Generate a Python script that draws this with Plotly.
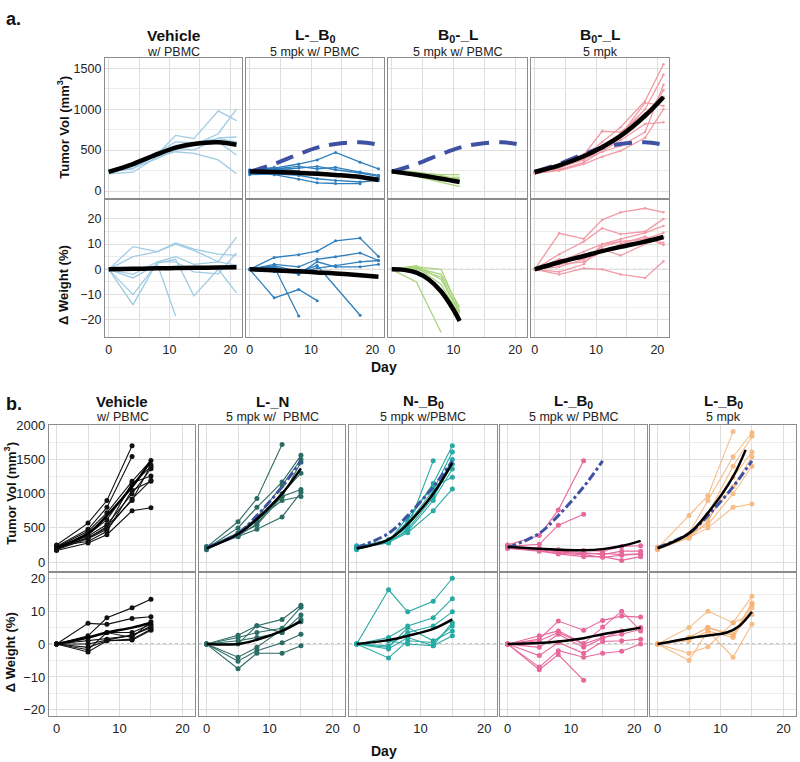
import plotly.graph_objects as go

W, H = 800, 762

# ---------------- Panel a data ----------------
A_DAYS = [0, 4, 8, 11, 14, 18, 21]
A_SHORT_DAYS = [0, 4, 8, 11]

A_VEH_TV = [
    [230, 270, 450, 680, 640, 980, 860],
    [220, 300, 430, 560, 560, 700, 1000],
    [240, 320, 480, 520, 500, 650, 660],
    [210, 230, 420, 480, 460, 380, 210],
    [240, 280, 400, 500, 560, 600, 440],
    [230, 310, 470, 600, 590, 640, 600],
]
A_VEH_TV_FIT = [235, 330, 450, 530, 575, 595, 565]

A_LB0_TV = [
    [250, 280, 330, 380, 472, 352, 272],
    [240, 270, 300, 270, 290, 232, 192],
    [230, 260, 280, 300, 260, 220, 180],
    [260, 230, 220, 230, 200, 180, 160],
    [220, 200, 144, 100, 92, 90, None],
    [200, 210, 190, 150, 130, 110, 130],
    [250, 290, 240, 210, 190, 170, 140],
]
A_LB0_TV_FIT = [240, 232, 222, 212, 197, 172, 135]

A_B0L_PBMC_TV = [
    [240, 200, 180, 150],
    [230, 220, 200, 200],
    [250, 180, 110, 55],
    [220, 190, 160, 170],
    [240, 210, 140, 120],
    [260, 230, 190, 130],
]
A_B0L_PBMC_TV_FIT = [240, 198, 150, 110]

A_B0L_TV = [
    [230, 280, 420, 600, 780, 1100, 1550],
    [220, 300, 400, 560, 700, 1000, 1420],
    [250, 290, 380, 520, 660, 900, 1230],
    [240, 270, 440, 730, 720, 950, 1150],
    [210, 260, 350, 480, 620, 820, 840],
    [230, 310, 450, 530, 680, 1080, 1040],
    [240, 300, 390, 480, 550, 720, 1300],
    [220, 250, 330, 420, 490, 650, 1000],
]
A_B0L_TV_FIT = [230, 313, 425, 535, 673, 920, 1150]

A_VEH_WT = [
    [0, 9, 7, 10.5, 8, 6, 5.5],
    [0, 5, 7, 10, 7.5, 3, 12.8],
    [0, -10, 2.5, 4, -10.5, 0, -9.3],
    [0, -14, 3, 3, -1, -1.8, 6.5],
    [0, -3.4, 2, -18.5, None, None, None],
    [0, -2, 3, 5, 2, 3, 1.7],
]
A_VEH_WT_FIT = [0, 0.2, 0.4, 0.5, 0.6, 0.7, 0.8]

A_LB0_WT = [
    [0, 4.7, 5.8, 7.2, 11.3, 12.4, 5.1],
    [0, -11.3, -8, -12.4, None, None, None],
    [0, 1, -18.5, None, None, None, None],
    [0, 1.5, -1, 1.5, None, -18.2, None],
    [0, 2, 1, 4, 5, 6.5, 3.5],
    [0, 1, -2, 3, 1, 1, 2],
    [0, -1, -1.5, 0.5, 1.5, 3, 3.5],
]
A_LB0_WT_FIT = [0, -0.4, -0.8, -1.2, -1.6, -2.3, -2.9]

A_B0L_PBMC_WT = [
    [0, 1, 0, -16.5],
    [0, 1.5, -4, -17.5],
    [0, -5, -25, None],
    [0, 0.5, -2, -15],
    [0, 1, -6, -18.5],
    [0, 0, -3, -17],
]
A_B0L_PBMC_WT_FIT_DAYS = [0, 2, 4, 6, 8, 10, 11]
A_B0L_PBMC_WT_FIT = [0, -0.2, -1.3, -4, -8.8, -16, -20.5]

A_B0L_WT = [
    [0, 14.3, 12.1, 19.6, 22.6, 24.2, 22.6],
    [0, 6, 11, 16.3, 14, 15, 20],
    [0, 3, 7, 10, 12, 14.5, 17.2],
    [0, 4, 4, 9, 11, 12, 14.5],
    [0, 1, 4, 8, 5.5, 10, 12.8],
    [0, 2, 3, 7, 10, 13, 9.6],
    [0, -2, 0.4, 0, -2, -3.4, 3.2],
    [0, -1, 2, 10, 11, 12, 10.5],
]
A_B0L_WT_FIT = [0, 2.8, 5.3, 7.2, 8.9, 11, 12.8]

# ---------------- Panel b data ----------------
B_DAYS = [0, 5, 8, 12, 15]
B_LONG_DAYS = [0, 5, 8, 12, 15, 18, 21]
B_LB0_FIT_DAYS = [0, 5, 8, 12, 14]
B_LB0_WT_FIT_DAYS = [0, 5, 8, 11, 13, 15]

B_VEH_TV = [
    [250, 570, 900, 1700, None],
    [230, 480, 800, 1545, None],
    [220, 450, 720, 1180, 1486],
    [200, 400, 620, 1136, 1395],
    [210, 380, 550, 1000, 1364],
    [190, 360, 500, 1160, 1259],
    [180, 340, 480, 923, 1195],
    [240, 300, 450, 1050, 1180],
    [170, 280, 400, 750, 795],
    [220, 350, 520, 900, 1420],
]
B_VEH_TV_FIT = [210, 420, 680, 1100, 1480]

B_LN_TV = [
    [220, 590, 930, 1720, None],
    [200, 500, 800, 1170, 1560],
    [210, 430, 650, 1120, 1500],
    [190, 400, 600, 960, 1460],
    [230, 380, 560, 1000, 1300],
    [180, 410, 540, 960, 1060],
    [200, 370, 480, 660, 1020],
    [210, 390, 620, 900, 960],
]
B_LN_TV_FIT = [200, 410, 630, 1000, 1370]

B_NB0_TV = [
    [220, 330, 500, 1480, None],
    [200, 300, 600, 1150, 1700],
    [230, 290, 560, 1050, 1610],
    [190, 320, 520, 1000, 1500],
    [210, 280, 480, 950, 1430],
    [180, 310, 450, 900, 1360],
    [240, 300, 660, 1100, 1240],
    [200, 290, 430, 750, 1070],
]
B_NB0_TV_FIT = [200, 330, 560, 1000, 1450]

B_LB0_PBMC_TV = [
    [250, 390, 760, 1480, None, None, None],
    [230, 260, 540, 700, None, None, None],
    [220, 200, 180, 170, 160, 230, 240],
    [240, 180, 160, 140, 110, 160, 160],
    [210, 170, 130, 110, 70, 100, 115],
    [200, 160, 120, 80, 80, 25, 80],
    [230, 190, 150, 120, 130, 110, 120],
]
B_LB0_PBMC_TV_FIT = [225, 195, 182, 175, 190, 235, 310]

B_LB0_TV = [
    [200, 680, 970, 1910, None],
    [210, 420, 900, 1540, 1890],
    [190, 400, 700, 1400, 1840],
    [220, 350, 600, 1240, 1610],
    [200, 380, 650, 1100, 1540],
    [180, 360, 500, 800, 850],
    [210, 400, 550, 1000, 1400],
]
B_LB0_TV_FIT = [200, 420, 720, 1250, 1640]

B_VEH_WT = [
    [0, 6.3, 6, 7.8, 8.3],
    [0, 2.5, 8, 11, 13.6],
    [0, 2, 3.5, 3.5, 6],
    [0, 1, 1.5, 2.5, 5.5],
    [0, -1, 1, 1.5, 4.5],
    [0, -2.4, 1, 1.2, 4.2],
    [0, -1.7, 3.5, 2, 6.8],
    [0, 0, 1.2, 2.8, 5],
]
B_VEH_WT_FIT = [0, 2, 3.5, 5, 6.5]

B_LN_WT = [
    [0, 2.7, 5.6, 7.5, 11.8],
    [0, 2, 3.5, 4.8, 11.2],
    [0, 1, 2, 3.5, 8.8],
    [0, 0, 5.6, 3.5, 7.5],
    [0, -4, -1, 4.5, 6.8],
    [0, -5.2, -2, 0.4, 3],
    [0, -7.5, -2.8, -2.8, -0.5],
]
B_LN_WT_FIT = [0, 0, 1.3, 4, 7]

B_NB0_WT = [
    [0, 16.5, 9.8, 13, 20],
    [0, 2, 5.5, 8, 13.8],
    [0, -0.5, 3.5, 5.5, 9.8],
    [0, -1.5, 2, -0.5, 6.5],
    [0, -4.2, 1, 0.5, 5.5],
    [0, -1, 5, 1, 4],
    [0, 1, 0, -0.5, 2.5],
]
B_NB0_WT_FIT = [0, 1.2, 2.5, 4.6, 7.5]

B_LB0_PBMC_WT = [
    [0, 1.5, 7, 4.2, 7.2, 8.5, 8.2],
    [0, 2.5, 4, 0.2, 5.2, 10, 4],
    [0, -1, 3, -1, 1.8, 4, 5],
    [0, -3.5, 0.5, -2.8, 0.8, 1, 1.5],
    [0, -7, -2, -4, -2.8, -2.2, 0],
    [0, -7.8, -3.2, -11, None, None, None],
    [0, 1, 3.5, 0, 2, 3, 4.5],
]
B_LB0_PBMC_WT_FIT = [0, 0.3, 0.8, 1.8, 3, 4, 5]

B_LB0_WT = [
    [0, 5, 10, 6.5, 14.5],
    [0, 2, 5, 3, 12.5],
    [0, 1, 4, 2, 11],
    [0, -2.8, -0.8, 6.5, 9],
    [0, -5, 4, -4, 6],
    [0, 2, 5, 2.5, 12],
]
B_LB0_WT_FIT = [0, 1.8, 2.6, 3.5, 5.5, 9.8]

A_TITLES = ["Vehicle", "L-_B<sub>0</sub>", "B<sub>0</sub>-_L", "B<sub>0</sub>-_L"]
A_SUBTITLES = ["w/ PBMC", "5 mpk w/ PBMC", "5 mpk w/ PBMC", "5 mpk"]
B_TITLES = ["Vehicle", "L-_N", "N-_B<sub>0</sub>", "L-_B<sub>0</sub>", "L-_B<sub>0</sub>"]
B_SUBTITLES = ["w/ PBMC", "5 mpk w/  PBMC", "5 mpk w/PBMC", "5 mpk w/ PBMC", "5 mpk"]

# ---------------- styling ----------------
FONT = "Arial, Liberation Sans, sans-serif"
BOX = "#8c8c8c"
GRID = "#dedede"
DASH_BLUE = "#3f51a3"

fig = go.Figure()
layout = dict(width=W, height=H, margin=dict(l=0, r=0, t=0, b=0),
              paper_bgcolor="white", plot_bgcolor="white", showlegend=False,
              font=dict(family=FONT, color="#222"))
shapes = []
annotations = []


def fx(px):
    return px / W


def fy(py):
    return 1 - py / H


panel_count = [0]


def add_axes(xpx, ypx, xr, yr, yticks, yminor, show_x, show_y, tick_size):
    panel_count[0] += 1
    i = panel_count[0]
    xa = "xaxis" if i == 1 else f"xaxis{i}"
    ya = "yaxis" if i == 1 else f"yaxis{i}"
    xn = "x" if i == 1 else f"x{i}"
    yn = "y" if i == 1 else f"y{i}"
    layout[xa] = dict(domain=[fx(xpx[0]), fx(xpx[1])], range=xr, anchor=yn,
                      showline=True, mirror=True, linecolor=BOX, linewidth=1.3,
                      showgrid=True, gridcolor=GRID, gridwidth=1, zeroline=False,
                      tickvals=[0, 10, 20], ticktext=["0", "10", "20"],
                      showticklabels=show_x, ticks="",
                      tickfont=dict(size=tick_size, color="#222"),
                      minor=dict(tickvals=[5, 15], showgrid=True, gridcolor=GRID, gridwidth=1))
    layout[ya] = dict(domain=[fy(ypx[1]), fy(ypx[0])], range=yr, anchor=xn,
                      showline=True, mirror=True, linecolor=BOX, linewidth=1.3,
                      showgrid=True, gridcolor=GRID, gridwidth=1, zeroline=False,
                      tickvals=yticks, showticklabels=show_y, ticks="",
                      tickfont=dict(size=tick_size, color="#222"),
                      minor=dict(tickvals=yminor, showgrid=True, gridcolor="#ececec", gridwidth=1))
    return xn, yn


def add_lines(xn, yn, days, series, color, width, msize, opacity=1.0):
    for s in series:
        fig.add_trace(go.Scatter(
            x=days, y=s, xaxis=xn, yaxis=yn, mode="lines+markers" if msize else "lines",
            line=dict(color=color, width=width), marker=dict(size=msize, color=color),
            opacity=opacity, connectgaps=True, hoverinfo="skip"))


def add_fit(xn, yn, days, vals, color, width, dash="solid"):
    fig.add_trace(go.Scatter(
        x=days, y=vals, xaxis=xn, yaxis=yn, mode="lines",
        line=dict(color=color, width=width, shape="spline", smoothing=1.0, dash=dash),
        hoverinfo="skip"))


def zero_line(xn, yn):
    shapes.append(dict(type="line", xref=f"{xn} domain", yref=yn, x0=0, x1=1, y0=0, y1=0,
                       line=dict(color="#777", width=1, dash="dot"), layer="below"))


# ---------------- Panel a layout ----------------
A_COLS = [(105, 242), (246, 384), (388, 527), (531, 669)]
A_TOP = (52, 193)
A_BOT = (195, 334)
A_XR = [-0.6, 21.9]
A_TV_YR = [-85, 1620]
A_WT_YR = [-27, 27.5]

a_tv = [
    (A_DAYS, A_VEH_TV, A_VEH_TV_FIT, A_DAYS, "#9fcbe3", 1.3, 0, False),
    (A_DAYS, A_LB0_TV, A_LB0_TV_FIT, A_DAYS, "#2f7fbd", 1.3, 3, True),
    (A_SHORT_DAYS, A_B0L_PBMC_TV, A_B0L_PBMC_TV_FIT, A_SHORT_DAYS, "#a8d47c", 1.3, 0, True),
    (A_DAYS, A_B0L_TV, A_B0L_TV_FIT, A_DAYS, "#f29aa5", 1.3, 2.5, True),
]
a_wt = [
    (A_DAYS, A_VEH_WT, A_VEH_WT_FIT, A_DAYS, "#9fcbe3", 1.3, 0),
    (A_DAYS, A_LB0_WT, A_LB0_WT_FIT, A_DAYS, "#2f7fbd", 1.3, 3),
    (A_SHORT_DAYS, A_B0L_PBMC_WT, A_B0L_PBMC_WT_FIT, A_B0L_PBMC_WT_FIT_DAYS, "#a8d47c", 1.3, 0),
    (A_DAYS, A_B0L_WT, A_B0L_WT_FIT, A_DAYS, "#f29aa5", 1.3, 2.5),
]

for c, (xp) in enumerate(A_COLS):
    days, series, fit, fdays, col, lw, ms, dashed = a_tv[c]
    xn, yn = add_axes(xp, A_TOP, A_XR, A_TV_YR, [0, 500, 1000, 1500], [250, 750, 1250],
                      False, c == 0, 12.5)
    add_lines(xn, yn, days, series, col, lw, ms)
    if dashed:
        add_fit(xn, yn, A_DAYS, A_VEH_TV_FIT, DASH_BLUE, 4, dash="18px,10px")
    add_fit(xn, yn, fdays, fit, "black", 4.5)

    days, series, fit, fdays, col, lw, ms = a_wt[c]
    xn, yn = add_axes(xp, A_BOT, A_XR, A_WT_YR, [-20, -10, 0, 10, 20], [-15, -5, 5, 15],
                      True, c == 0, 12.5)
    zero_line(xn, yn)
    add_lines(xn, yn, days, series, col, lw, ms)
    add_fit(xn, yn, fdays, fit, "black", 4.5)

    cx = (xp[0] + xp[1]) / 2
    annotations.append(dict(text=f"<b>{A_TITLES[c]}</b>", x=fx(cx), y=fy(29), xref="paper", yref="paper",
                            showarrow=False, font=dict(size=15.5, color="#111"), xanchor="center", yanchor="middle"))
    annotations.append(dict(text=A_SUBTITLES[c], x=fx(cx), y=fy(45), xref="paper", yref="paper",
                            showarrow=False, font=dict(size=12.5, color="#222"), xanchor="center", yanchor="middle"))

# ---------------- Panel b layout ----------------
B_COLS = [(49, 195), (199, 345), (349, 497), (500, 647), (650, 796)]
B_TOP = (422, 570)
B_BOT = (572, 717)
B_XR = [-1.2, 22]
B_TV_YR = [-130, 2010]
B_WT_YR = [-22, 21.6]

b_tv = [
    (B_DAYS, B_VEH_TV, B_VEH_TV_FIT, B_DAYS, "#111111", False),
    (B_DAYS, B_LN_TV, B_LN_TV_FIT, B_DAYS, "#2b6c64", True),
    (B_DAYS, B_NB0_TV, B_NB0_TV_FIT, B_DAYS, "#28aaa4", True),
    (B_LONG_DAYS, B_LB0_PBMC_TV, B_LB0_PBMC_TV_FIT, B_LONG_DAYS, "#e8689c", True),
    (B_DAYS, B_LB0_TV, B_LB0_TV_FIT, B_LB0_FIT_DAYS, "#f6b273", True),
]
b_wt = [
    (B_DAYS, B_VEH_WT, B_VEH_WT_FIT, B_DAYS, "#111111"),
    (B_DAYS, B_LN_WT, B_LN_WT_FIT, B_DAYS, "#2b6c64"),
    (B_DAYS, B_NB0_WT, B_NB0_WT_FIT, B_DAYS, "#28aaa4"),
    (B_LONG_DAYS, B_LB0_PBMC_WT, B_LB0_PBMC_WT_FIT, B_LONG_DAYS, "#e8689c"),
    (B_DAYS, B_LB0_WT, B_LB0_WT_FIT, B_LB0_WT_FIT_DAYS, "#f6b273"),
]

for c, xp in enumerate(B_COLS):
    days, series, fit, fdays, col, dashed = b_tv[c]
    xn, yn = add_axes(xp, B_TOP, B_XR, B_TV_YR, [0, 500, 1000, 1500, 2000], [250, 750, 1250, 1750],
                      False, c == 0, 13)
    add_lines(xn, yn, days, series, col, 1.1, 5, opacity=0.85 if c == 4 else 1.0)
    if dashed:
        add_fit(xn, yn, B_DAYS, B_VEH_TV_FIT, DASH_BLUE, 3, dash="dashdot")
    add_fit(xn, yn, fdays, fit, "black", 2.5)

    days, series, fit, fdays, col = b_wt[c]
    xn, yn = add_axes(xp, B_BOT, B_XR, B_WT_YR, [-20, -10, 0, 10, 20], [-15, -5, 5, 15],
                      True, c == 0, 13)
    zero_line(xn, yn)
    add_lines(xn, yn, days, series, col, 1.1, 5, opacity=0.85 if c == 4 else 1.0)
    add_fit(xn, yn, fdays, fit, "black", 2.5)

    cx = (xp[0] + xp[1]) / 2
    annotations.append(dict(text=f"<b>{B_TITLES[c]}</b>", x=fx(cx), y=fy(399), xref="paper", yref="paper",
                            showarrow=False, font=dict(size=15, color="#111"), xanchor="center", yanchor="middle"))
    annotations.append(dict(text=B_SUBTITLES[c], x=fx(cx), y=fy(414), xref="paper", yref="paper",
                            showarrow=False, font=dict(size=12.5, color="#222"), xanchor="center", yanchor="middle"))

# ---------------- labels ----------------
def label(text, px, py, size, angle=0):
    annotations.append(dict(text=text, x=fx(px), y=fy(py), xref="paper", yref="paper", showarrow=False,
                            textangle=angle, font=dict(size=size, color="#111"),
                            xanchor="center", yanchor="middle"))

label("<b>a.</b>", 13, 12, 18)
label("<b>b.</b>", 14, 401, 18)
label("<b>Tumor Vol (mm<sup>3</sup>)</b>", 63, 122, 13, -90)
label("<b>Δ Weight (%)</b>", 63, 281, 13, -90)
label("<b>Day</b>", 384, 364, 14)
label("<b>Tumor Vol (mm<sup>3</sup>)</b>", 10, 492, 13, -90)
label("<b>Δ Weight (%)</b>", 10, 652, 13, -90)
label("<b>Day</b>", 384, 752, 14)

layout["shapes"] = shapes
layout["annotations"] = annotations
fig.update_layout(**layout)
fig.write_html("out.html", config={"displayModeBar": False},
               post_script="document.body.style.margin='0';document.body.style.overflow='hidden';")
